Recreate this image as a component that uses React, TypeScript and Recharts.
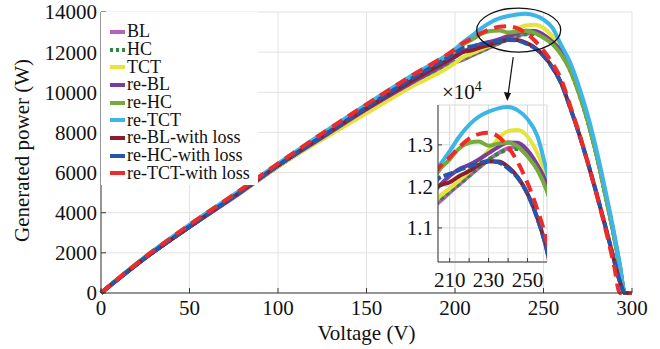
import React from "react";
import {
  LineChart,
  Line,
  XAxis,
  YAxis,
  CartesianGrid,
  Legend,
  ReferenceDot,
} from "recharts";

const FONT = '"Liberation Serif", "Times New Roman", serif';

// voltage (V) and generated power (W) of each configuration
const voltage = [0, 25, 50, 75, 100, 125, 150, 175, 200, 204, 210, 215, 220, 225, 230, 235, 240, 245, 250, 255, 260, 265, 270, 275, 280, 285, 290, 293, 296, 300];
const bl = [0, 1750, 3300, 4750, 6300, 7700, 9050, 10300, 11500, 11600, 11850, 12050, 12250, 12450, 12640, 12800, 12920, 12950, 12820, 12480, 11980, 11150, 10000, 8600, 6900, 4900, 2800, 1400, 0, 0];
const hc = [0, 1750, 3300, 4780, 6300, 7700, 9050, 10300, 11500, 11640, 11880, 12060, 12260, 12460, 12640, 12790, 12890, 12900, 12760, 12420, 11920, 11100, 9950, 8550, 6850, 4850, 2750, 1350, 0, 0];
const tct = [0, 1800, 3350, 4800, 6300, 7650, 8950, 10250, 11450, 11720, 11950, 12150, 12350, 12600, 12870, 13150, 13330, 13360, 13200, 12800, 12200, 11300, 10100, 8650, 6900, 4900, 2800, 1400, 0, 0];
const reBl = [0, 1750, 3300, 4800, 6350, 7750, 9150, 10450, 11750, 11980, 12250, 12420, 12520, 12650, 12800, 12950, 13060, 13050, 12870, 12520, 12050, 11200, 10050, 8600, 6900, 4900, 2800, 1400, 0, 0];
const reHc = [0, 1800, 3350, 4850, 6400, 7850, 9250, 10650, 12000, 12350, 12650, 12920, 13050, 13080, 12980, 13030, 13060, 12960, 12720, 12400, 11880, 11100, 9950, 8550, 6850, 4850, 2750, 1300, 0, 0];
const reTct = [0, 1800, 3400, 4900, 6450, 7950, 9400, 10800, 12150, 12450, 12850, 13200, 13480, 13680, 13800, 13880, 13910, 13830, 13620, 13220, 12350, 11500, 10300, 8850, 7100, 5100, 2950, 1500, 0, 0];
const reBlLoss = [0, 1750, 3300, 4800, 6350, 7800, 9200, 10550, 11800, 12000, 12100, 12250, 12370, 12520, 12600, 12600, 12470, 12220, 11820, 11250, 10450, 9250, 7950, 6500, 4950, 3300, 1600, 600, 0, 0];
const reHcLoss = [0, 1750, 3300, 4800, 6350, 7800, 9250, 10650, 11950, 12180, 12300, 12400, 12480, 12560, 12610, 12580, 12430, 12200, 11820, 11230, 10450, 9250, 7950, 6500, 4950, 3300, 1600, 600, 0, 0];
const reTctLoss = [0, 1800, 3400, 4900, 6450, 7950, 9400, 10800, 12150, 12420, 12700, 12950, 13150, 13260, 13290, 13200, 12950, 12580, 12080, 11450, 10650, 9350, 8000, 6500, 4900, 3200, 1300, 0, 0, 0];

const xTicks = [0, 50, 100, 150, 200, 250, 300];
const yTicks = [0, 2000, 4000, 6000, 8000, 10000, 12000, 14000];
const insetXTicks = [210, 220, 230, 240, 250];
const insetYTicks = [11000, 12000, 13000];

const SERIES = [
  { key: "bl", name: "BL", values: bl, color: "#b462b8", dash: undefined as string | undefined },
  { key: "hc", name: "HC", values: hc, color: "#2b8a3e", dash: "4 3" },
  { key: "tct", name: "TCT", values: tct, color: "#e6e43a", dash: undefined },
  { key: "reBl", name: "re-BL", values: reBl, color: "#7a3d9e", dash: undefined },
  { key: "reHc", name: "re-HC", values: reHc, color: "#76ab3b", dash: undefined },
  { key: "reTct", name: "re-TCT", values: reTct, color: "#3db5e6", dash: undefined },
  { key: "reBlLoss", name: "re-BL-with loss", values: reBlLoss, color: "#8c1d2e", dash: undefined },
  { key: "reHcLoss", name: "re-HC-with loss", values: reHcLoss, color: "#2456ad", dash: "10 3" },
  { key: "reTctLoss", name: "re-TCT-with loss", values: reTctLoss, color: "#ee2b2b", dash: "12 7" },
];

const data = voltage.map((v, i) => {
  const row: Record<string, number> = { v };
  SERIES.forEach((s) => {
    row[s.key] = s.values[i];
  });
  return row;
});

const tickStyle = { fill: "#111", fontSize: 21, fontFamily: FONT };

function YTitle(props: any) {
  const vb = props.viewBox || { x: 0, y: 12, width: 101, height: 281 };
  const cx = vb.x + 22;
  const cy = vb.y + vb.height / 2 - 2;
  return (
    <text
      x={cx}
      y={cy}
      transform={`rotate(-90 ${cx} ${cy})`}
      textAnchor="middle"
      dominantBaseline="central"
      fill="#111"
      fontSize={21}
      fontFamily={FONT}
    >
      Generated power (W)
    </text>
  );
}

function LegendBox() {
  return (
    <div
      style={{
        background: "#fff",
        width: 157,
        height: 173,
        paddingTop: 11,
        paddingLeft: 9,
        boxSizing: "border-box",
      }}
    >
      {SERIES.map((s) => (
        <div key={s.key} style={{ display: "flex", alignItems: "center", height: 17.7 }}>
          <svg width={15} height={8} style={{ marginRight: 2 }}>
            <line
              x1={0}
              x2={15}
              y1={4}
              y2={4}
              stroke={s.color}
              strokeWidth={4}
              strokeDasharray={s.key === "hc" ? "3 3" : undefined}
            />
          </svg>
          <span style={{ fontFamily: FONT, fontSize: 18, color: "#111", lineHeight: "17px", whiteSpace: "nowrap" }}>
            {s.name}
          </span>
        </div>
      ))}
    </div>
  );
}

// circle round the peaks and arrow down to the zoomed view
function ZoomMark(props: any) {
  const { cx, cy } = props;
  const x1 = cx - 5.5;
  const y1 = cy + 27;
  const x2 = cx - 11.5;
  const y2 = cy + 71;
  return (
    <g>
      <ellipse cx={cx} cy={cy} rx={42} ry={22} fill="none" stroke="#111" strokeWidth={1.3} />
      <line x1={x1} y1={y1} x2={x2 + 0.8} y2={y2 - 6} stroke="#111" strokeWidth={1.2} />
      <polygon points={`${x2},${y2} ${x2 - 3.3},${y2 - 9} ${x2 + 3.8},${y2 - 8}`} fill="#111" />
    </g>
  );
}

export default function App() {
  return (
    <div style={{ position: "absolute", left: 0, top: 0, width: 660, height: 349, background: "#fff" }}>
      <LineChart width={660} height={349} data={data} margin={{ top: 12, right: 28, bottom: 0, left: 0 }}>
        <CartesianGrid stroke="#e2e2e2" />
        <XAxis
          dataKey="v"
          type="number"
          domain={[0, 300]}
          ticks={xTicks}
          interval={0}
          height={56}
          tickSize={-5}
          tickMargin={12}
          stroke="#3a3a3a"
          tick={tickStyle}
          label={{ value: "Voltage (V)", position: "insideBottom", offset: 9, fill: "#111", fontSize: 21, fontFamily: FONT }}
        />
        <XAxis
          xAxisId="top"
          orientation="top"
          dataKey="v"
          type="number"
          domain={[0, 300]}
          ticks={xTicks}
          interval={0}
          height={0}
          tickSize={-5}
          tick={false}
          stroke="#3a3a3a"
        />
        <YAxis
          type="number"
          domain={[0, 14000]}
          ticks={yTicks}
          interval={0}
          width={101}
          tickSize={-5}
          tickMargin={9}
          stroke="#3a3a3a"
          tick={tickStyle}
          label={{ content: YTitle }}
        />
        <YAxis
          yAxisId="right"
          orientation="right"
          type="number"
          domain={[0, 14000]}
          ticks={yTicks}
          interval={0}
          width={0}
          tickSize={-5}
          tick={false}
          stroke="#3a3a3a"
        />
        {SERIES.map((s) => (
          <Line
            key={s.key}
            type="monotone"
            dataKey={s.key}
            name={s.name}
            stroke={s.color}
            strokeWidth={4}
            strokeDasharray={s.dash}
            dot={false}
            activeDot={false}
            isAnimationActive={false}
          />
        ))}
        <ReferenceDot x={236} y={13100} shape={(p: any) => <ZoomMark {...p} />} />
        <Legend
          layout="vertical"
          align="center"
          verticalAlign="middle"
          content={() => <LegendBox />}
          wrapperStyle={{ position: "absolute", left: 101, top: 12, width: 157, height: 173 }}
        />
      </LineChart>

      <div style={{ position: "absolute", left: 390, top: 75 }}>
        <LineChart width={170} height={230} data={data} margin={{ top: 30, right: 13, bottom: 0, left: 0 }}>
          <CartesianGrid stroke="#d8d8d8" />
          <XAxis
            dataKey="v"
            type="number"
            domain={[204, 260]}
            allowDataOverflow
            ticks={insetXTicks}
            interval={0}
            tickFormatter={(v: number) => (v === 220 || v === 240 ? "" : String(v))}
            height={43}
            tickSize={-4}
            tickMargin={14}
            stroke="#3a3a3a"
            tick={tickStyle}
          />
          <XAxis
            xAxisId="top"
            orientation="top"
            dataKey="v"
            type="number"
            domain={[204, 260]}
            allowDataOverflow
            ticks={insetXTicks}
            interval={0}
            height={0}
            tickSize={-4}
            tick={false}
            stroke="#3a3a3a"
          />
          <YAxis
            type="number"
            domain={[10180, 13960]}
            allowDataOverflow
            ticks={insetYTicks}
            interval={0}
            width={48}
            tickSize={-4}
            tickMargin={9}
            tickFormatter={(v: number) => (v / 10000).toFixed(1)}
            stroke="#3a3a3a"
            tick={tickStyle}
          />
          <YAxis
            yAxisId="right"
            orientation="right"
            type="number"
            domain={[10180, 13960]}
            allowDataOverflow
            ticks={insetYTicks}
            interval={0}
            width={0}
            tickSize={-4}
            tick={false}
            stroke="#3a3a3a"
          />
          {SERIES.map((s) => (
            <Line
              key={s.key}
              type="monotone"
              dataKey={s.key}
              name={s.name}
              stroke={s.color}
              strokeWidth={4}
              strokeDasharray={s.dash}
              dot={false}
              activeDot={false}
              isAnimationActive={false}
            />
          ))}
        </LineChart>
      </div>

      <div
        style={{
          position: "absolute",
          left: 442,
          top: 82,
          fontFamily: FONT,
          fontSize: 21,
          lineHeight: "21px",
          color: "#111",
          whiteSpace: "nowrap",
        }}
      >
        ×10
        <span style={{ fontSize: 14, position: "relative", top: -8 }}>4</span>
      </div>
    </div>
  );
}
